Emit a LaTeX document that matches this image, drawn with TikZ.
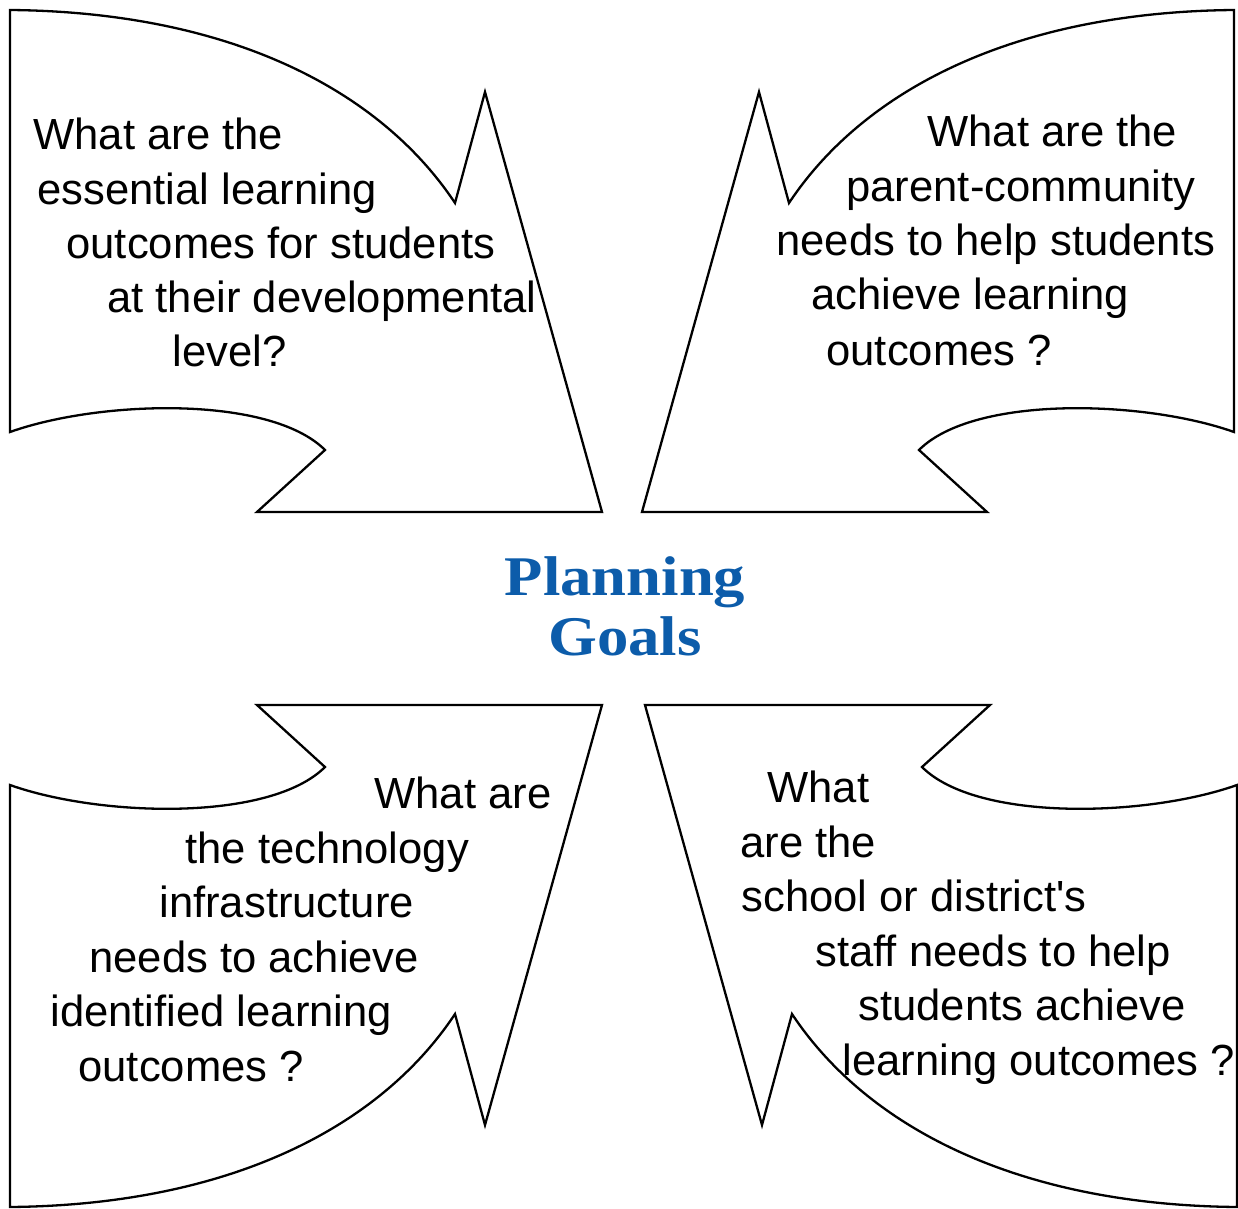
\documentclass[tikz,border=0pt]{standalone}
\usepackage{fontspec}
\setmainfont{Liberation Sans}[Ligatures=TeXOff]
\newfontfamily\titlefont{Liberation Serif}
\definecolor{titleblue}{RGB}{12,92,170}
\newcommand\quadshape{(10,10) .. controls (230,12) and (380,90) .. (455,203) -- (485,92) -- (602,512) -- (257,512) -- (325,450) .. controls (270,395) and (100,400) .. (10,432) -- cycle}
\tikzset{
  shapeline/.style={draw=black, line width=1.15pt, line join=miter},
  qtext/.style={anchor=base west, inner sep=0pt, font=\fontsize{21.8}{27}\selectfont},
  ttext/.style={anchor=base, inner sep=0pt, text=titleblue, font=\titlefont\bfseries\fontsize{28}{30}\selectfont}
}
\begin{document}
\begin{tikzpicture}[x=0.5pt,y=-0.5pt]
\useasboundingbox (0,0) rectangle (1238,1209);
% shapes
\draw[shapeline] \quadshape;
\begin{scope}[shift={(1244,0)},xscale=-1]
\draw[shapeline] \quadshape;
\end{scope}
\begin{scope}[shift={(0,1217)},yscale=-1]
\draw[shapeline] \quadshape;
\end{scope}
\begin{scope}[shift={(1247,1217)},xscale=-1,yscale=-1]
\draw[shapeline] \quadshape;
\end{scope}
% top-left text
\node[qtext] (tl1) at (33,150) {What are the};
\node[qtext] (tl2) at (37,205) {essential learning};
\node[qtext] (tl3) at (66,259) {outcomes for students};
\node[qtext] (tl4) at (107,313) {at their developmental};
\node[qtext] (tl5) at (172,367) {level?};
% top-right text
\node[qtext] (tr1) at (927,147) {What are the};
\node[qtext] (tr2) at (846,202) {parent-community};
\node[qtext] (tr3) at (776,256) {needs to help students};
\node[qtext] (tr4) at (811,310) {achieve learning};
\node[qtext] (tr5) at (826,365) {outcomes ?};
% bottom-left text
\node[qtext] (bl1) at (374,808) {What are};
\node[qtext] (bl2) at (185,863) {the technology};
\node[qtext] (bl3) at (159,917) {infrastructure};
\node[qtext] (bl4) at (89,972) {needs to achieve};
\node[qtext] (bl5) at (50,1026) {identified learning};
\node[qtext] (bl6) at (78,1081) {outcomes ?};
% bottom-right text
\node[qtext] (br1) at (767,802) {What};
\node[qtext] (br2) at (740,857) {are the};
\node[qtext] (br3) at (741,911) {school or district's};
\node[qtext] (br4) at (815,966) {staff needs to help};
\node[qtext] (br5) at (858,1020) {students achieve};
\node[qtext] (br6) at (842,1075) {learning outcomes ?};
% title
\node[ttext] (t1) at (625,595) {\scalebox{1.12}[1]{Planning}};
\node[ttext] (t2) at (625,655) {\scalebox{1.12}[1]{Goals}};
\end{tikzpicture}
\end{document}
